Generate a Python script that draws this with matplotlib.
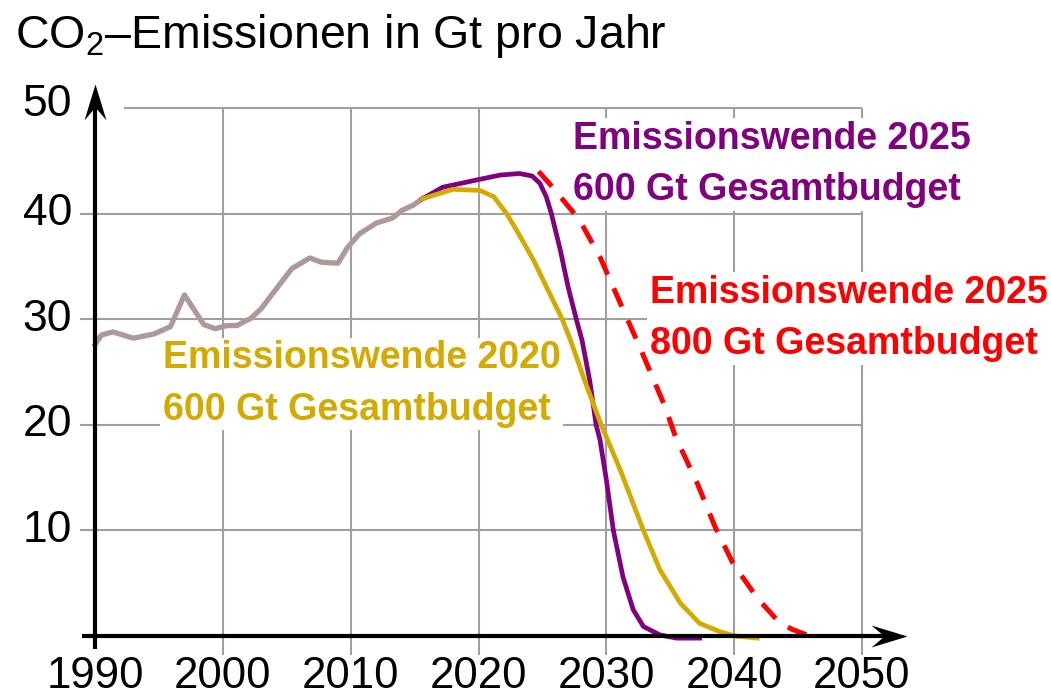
import matplotlib
matplotlib.use('Agg')
import matplotlib.pyplot as plt
from matplotlib.path import Path

plt.rcParams['font.family'] = ['Liberation Sans', 'DejaVu Sans']
plt.rcParams['mathtext.fontset'] = 'custom'
plt.rcParams['mathtext.rm'] = 'Liberation Sans'

# historische Emissionen (Gt CO2 pro Jahr)
hist_jahre = [1990, 1990.5, 1991.4, 1993, 1994.6, 1995.9, 1997, 1998.5, 1999.4, 2000.3,
              2001.1, 2002.2, 2003, 2004.2, 2005.4, 2006.8, 2007.7, 2009, 2009.7, 2010.7,
              2012, 2013.3, 2014, 2014.9, 2015.6]
hist_werte = [27.6, 28.5, 28.8, 28.2, 28.6, 29.3, 32.3, 29.5, 29.1, 29.4,
              29.4, 30.1, 31.0, 32.9, 34.8, 35.8, 35.4, 35.3, 36.7, 38.1,
              39.1, 39.6, 40.3, 40.8, 41.4]

# Emissionswende 2025, 600 Gt
lila_jahre = [2015.6, 2017.2, 2020.1, 2021.7, 2023.2, 2024.2, 2024.8, 2025.3, 2025.7,
              2026.4, 2027.0, 2027.65, 2028.1, 2028.7, 2029.2, 2029.5, 2030.0, 2030.55,
              2031.3, 2032.1, 2032.9, 2034.2, 2035.5, 2037.3]
lila_werte = [41.4, 42.5, 43.25, 43.65, 43.8, 43.56, 42.87, 41.6, 40.0,
              36.55, 33.1, 30.0, 28.0, 24.2, 20.0, 18.6, 14.8, 10.0,
              5.6, 2.5, 0.9, 0.1, -0.2, -0.2]

# Emissionswende 2020, 600 Gt
gelb_jahre = [2015.6, 2018.0, 2020.1, 2021.2, 2022.2, 2023.2, 2024.3, 2025.3, 2026.55,
              2027.2, 2028.3, 2029.6, 2031.1, 2032.9, 2034.2, 2035.8, 2037.3, 2038.9,
              2040.1, 2041.8]
gelb_werte = [41.4, 42.3, 42.2, 41.6, 40.0, 37.97, 35.6, 33.1, 30.0,
              28.0, 24.2, 20.0, 15.7, 10.0, 6.25, 3.1, 1.2, 0.4,
              0.0, -0.2]

# Emissionswende 2025, 800 Gt
rot_jahre = [2024.7, 2025.8, 2027.9, 2029.5, 2031.1, 2032.6, 2034.6, 2035.4, 2037.1,
             2038.5, 2039.9, 2041.8, 2043.6, 2044.6, 2045.7, 2046.7]
rot_werte = [44.0, 42.5, 39.4, 35.9, 31.5, 27.4, 21.7, 18.9, 14.5,
             10.35, 6.9, 3.6, 1.2, 0.6, 0.1, -0.1]

y_ticks = [10, 20, 30, 40, 50]
x_ticks = [1990, 2000, 2010, 2020, 2030, 2040, 2050]

fig = plt.figure(figsize=(10.51, 6.96), dpi=100)
ax = fig.add_axes([0.02959, 0.04066, 0.9122, 0.8800])
ax.set_xlim(1985, 2060)
ax.set_ylim(-3, 55)
ax.axis('off')

grau = '#a0a0a0'
for y in y_ticks:
    x0 = 1992.3 if y == 50 else 1988.8
    ax.hlines(y, x0, 2050, color=grau, lw=1.5, zorder=1)
for x in x_ticks[1:]:
    ax.vlines(x, -1.8, 50, color=grau, lw=1.5, zorder=1)

# Achsen mit Pfeilspitzen
spitze_rechts = Path([(0, 0), (-36, 11), (-23, 0), (-36, -11), (0, 0)],
                     [Path.MOVETO, Path.LINETO, Path.LINETO, Path.LINETO, Path.CLOSEPOLY])
spitze_oben = Path([(0, 0), (-11, -36), (0, -23), (11, -36), (0, 0)],
                   [Path.MOVETO, Path.LINETO, Path.LINETO, Path.LINETO, Path.CLOSEPOLY])
ax.plot([1990, 1990], [-1.2, 51], color='black', lw=3, zorder=6, solid_capstyle='butt')
ax.plot([1989.0, 2052.5], [0, 0], color='black', lw=3, zorder=6, solid_capstyle='butt')
ax.plot(1990, 52.3, marker=spitze_oben, ms=51.8, color='black', mew=0, zorder=6)
ax.plot(2053.5, 0, marker=spitze_rechts, ms=51.8, color='black', mew=0, zorder=6)

ax.plot(hist_jahre, hist_werte, color='#ae9898', lw=3.8, zorder=4, solid_joinstyle='round')
ax.plot(lila_jahre, lila_werte, color='#800080', lw=3.4, zorder=4, solid_joinstyle='round')
ax.plot(gelb_jahre, gelb_werte, color='#d4aa00', lw=3.4, zorder=5, solid_joinstyle='round')
ax.plot(rot_jahre, rot_werte, color='#ff0000', lw=3.6, ls=(0, (4, 3)), zorder=5)

for y in y_ticks:
    ax.text(1988.2, y + (0.3 if y == 50 else 0), str(y), ha='right', va='center',
            fontsize=32, zorder=7)
for x in x_ticks:
    ax.text(x, -1.9, str(x), ha='center', va='top', fontsize=31.5, zorder=7)

box = dict(facecolor='white', edgecolor='none', pad=2)
ax.text(2027.4, 48.8, 'Emissionswende 2025\n600 Gt Gesamtbudget', color='#800080',
        fontsize=27, fontweight='bold', ha='left', va='top', linespacing=1.55,
        bbox=box, zorder=3)
ax.text(2033.4, 34.2, 'Emissionswende 2025\n800 Gt Gesamtbudget', color='#ff0000',
        fontsize=27, fontweight='bold', ha='left', va='top', linespacing=1.55,
        bbox=box, zorder=3)
ax.text(1995.3, 28.0, 'Emissionswende 2020\n600 Gt Gesamtbudget', color='#d4aa00',
        fontsize=27, fontweight='bold', ha='left', va='top', linespacing=1.55,
        bbox=box, zorder=3)

fig.text(15 / 1051, 1 - 12 / 696, r'CO$_\mathregular{2}$–Emissionen in Gt pro Jahr',
         fontsize=33.5, ha='left', va='top')

fig.savefig('out.png', dpi=100)
